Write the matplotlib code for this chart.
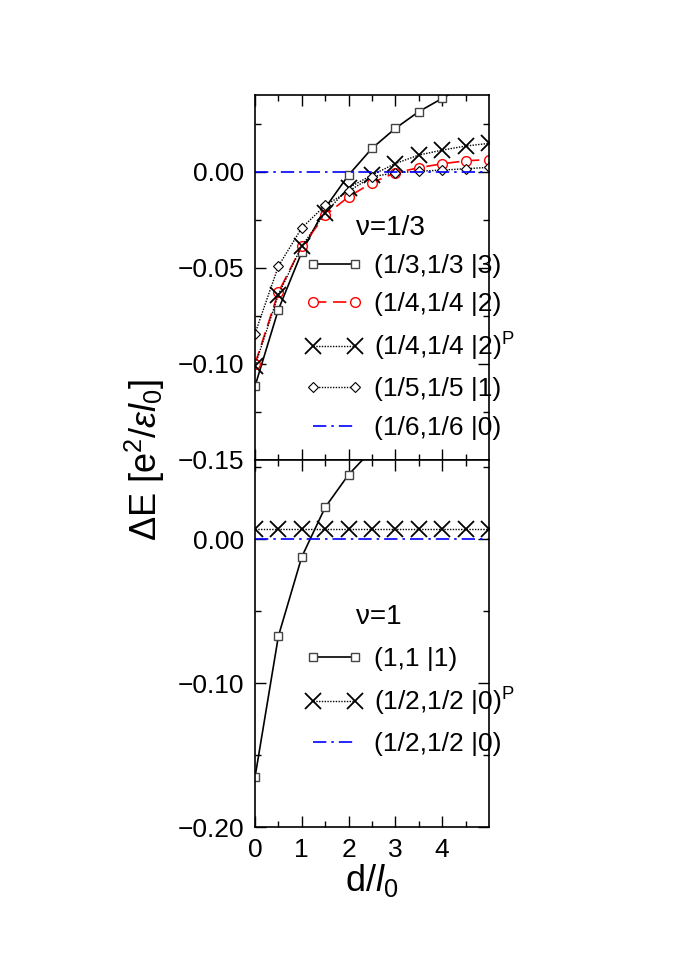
import numpy as np
import matplotlib.pyplot as plt

plt.rcParams['font.family'] = ['Liberation Sans', 'DejaVu Sans']
plt.rcParams['mathtext.fontset'] = 'custom'
plt.rcParams['mathtext.rm'] = 'Liberation Sans'
plt.rcParams['mathtext.it'] = 'Liberation Sans:italic'

d = np.arange(0, 5.01, 0.5)

# nu = 1/3 panel
e_33_3 = [-0.1116, -0.0717, -0.0418, -0.0188, -0.0017, 0.0122, 0.0226, 0.0313, 0.0382, 0.045, 0.051]
e_44_2 = [-0.100, -0.0627, -0.0387, -0.0227, -0.013, -0.0057, -0.0005, 0.0021, 0.0042, 0.0057, 0.0064]
e_44_2p = [-0.101, -0.0639, -0.0387, -0.0214, -0.0083, -0.0017, 0.0043, 0.0087, 0.0113, 0.0134, 0.0148]
e_55_1 = [-0.0842, -0.0491, -0.0292, -0.0175, -0.0101, -0.0026, -0.0005, 0.0003, 0.0009, 0.0016, 0.0023]
e_66_0 = [0.0] * 11

# nu = 1 panel
e_11_1 = [-0.1654, -0.0674, -0.0123, 0.0221, 0.0448, 0.062, 0.076, 0.088, 0.098, 0.106, 0.113]
e_22_0p = [0.007] * 11
e_22_0 = [0.0] * 11

fig = plt.figure(figsize=(6.92, 9.69), dpi=100)
ax1 = fig.add_axes([0.3685, 0.5253, 0.338, 0.3767])
ax2 = fig.add_axes([0.3685, 0.1465, 0.338, 0.3788])

sq = dict(marker='s', ms=6, mfc='white', mec='#444444', mew=1.0)
cross = dict(marker='x', ms=11, mew=1.3, color='black')
dot = (0, (1, 1))

ax1.plot(d, e_33_3, '-', color='black', lw=1.2, label='(1/3,1/3 |3)', **sq)
ax1.plot(d, e_44_2, color='red', ls=(0, (8, 4)), lw=1.2, marker='o', ms=7, mfc='white',
         mec='red', label='(1/4,1/4 |2)')
ax1.plot(d, e_44_2p, ls=dot, lw=1.0, label='(1/4,1/4 |2)$^{\\rm P}$', **cross)
ax1.plot(d, e_55_1, color='black', ls=dot, lw=1.0, marker='D', ms=5, mfc='white',
         mec='black', mew=0.8, label='(1/5,1/5 |1)')
ax1.plot(d, e_66_0, color='blue', ls=(0, (8, 3, 1.5, 3)), lw=1.2, label='(1/6,1/6 |0)')

ax2.plot(d, e_11_1, '-', color='black', lw=1.2, label='(1,1 |1)', **sq)
ax2.plot(d, e_22_0p, ls=dot, lw=1.0, label='(1/2,1/2 |0)$^{\\rm P}$', **cross)
ax2.plot(d, e_22_0, color='blue', ls=(0, (8, 3, 1.5, 3)), lw=1.2, label='(1/2,1/2 |0)')

for ax in (ax1, ax2):
    ax.set_xlim(0, 5)
    ax.set_xticks([0, 1, 2, 3, 4])
    ax.set_xticks(np.arange(0.5, 5, 1), minor=True)
    ax.tick_params(which='both', direction='in', top=True, right=True, labelsize=19, pad=8)
    ax.tick_params(which='major', length=8, width=1)
    ax.tick_params(which='minor', length=4, width=1)
    for s in ax.spines.values():
        s.set_linewidth(1.2)

ax1.set_ylim(-0.15, 0.04)
ax1.set_yticks([-0.15, -0.10, -0.05, 0.00])
ax1.set_yticks([-0.125, -0.075, -0.025, 0.025], minor=True)
ax1.set_yticklabels(['\u22120.15', '\u22120.10', '\u22120.05', '0.00'])
ax1.tick_params(labelbottom=False)

ax2.set_ylim(-0.20, 0.055)
ax2.set_yticks([-0.20, -0.10, 0.00])
ax2.set_yticks([-0.15, -0.05, 0.05], minor=True)
ax2.set_yticklabels(['\u22120.20', '\u22120.10', '0.00'])
ax2.set_xlabel('d/$l_0$', fontsize=26, labelpad=0)

ax1.text(2.15, -0.029, '\u03bd=1/3', fontsize=20, va='center')
ax2.text(2.15, -0.054, '\u03bd=1', fontsize=20, va='center')

leg_kw = dict(frameon=False, fontsize=19, handlelength=2.2, numpoints=2,
              labelspacing=0.55, handletextpad=0.4, borderpad=0, borderaxespad=0)
ax1.legend(loc='upper left', bbox_to_anchor=(0.214, 0.565), **leg_kw)
ax2.legend(loc='upper left', bbox_to_anchor=(0.214, 0.49), **leg_kw)

fig.text(0.21, 0.525, '\u0394E [e$^2$/$\\varepsilon l_0$]', rotation=90,
         fontsize=26, ha='center', va='center')

fig.savefig('out.png', dpi=100)
